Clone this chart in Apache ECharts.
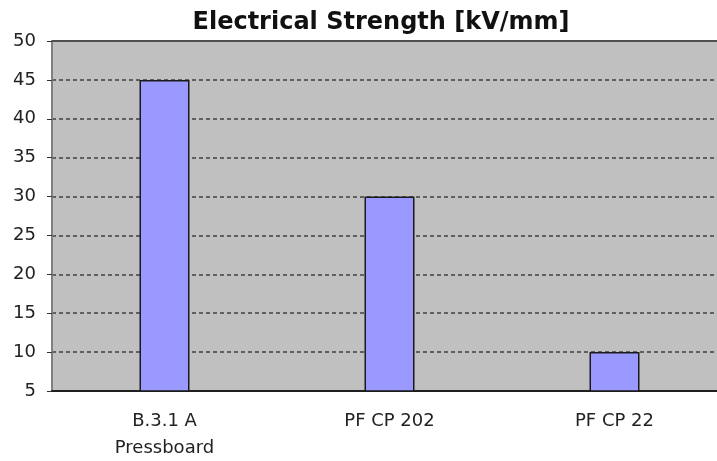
<!DOCTYPE html>
<html>
<head>
<meta charset="utf-8">
<script src="https://cdn.jsdelivr.net/npm/echarts@6/dist/echarts.min.js"></script>
<style>
  html, body { margin: 0; padding: 0; background: #fff; }
  #chart { width: 717px; height: 461px; }
</style>
</head>
<body>
<div id="chart"></div>
<script>
const categories = ['B.3.1 A\nPressboard', 'PF CP 202', 'PF CP 22']
const strength = [45, 30, 10]
const yTicks = [5, 50, 5] // min, max, step

const myChart = echarts.init(document.getElementById('chart'))

const font = '"DejaVu Sans", sans-serif'

const option = {
    animation: false,
    title: {
        text: 'Electrical Strength [kV/mm]',
        left: 376,
        textAlign: 'center',
        top: 6,
        textStyle: {
            fontFamily: font,
            fontSize: 24,
            fontWeight: 'bold',
            color: '#111'
        }
    },
    // plot runs past the right edge of the picture, as in the original
    grid: {
        left: 52,
        width: 675,
        top: 41,
        bottom: 70,
        outerBoundsMode: 'none',
        show: true,
        backgroundColor: '#c0c0c0',
        borderWidth: 0
    },
    xAxis: {
        type: 'category',
        data: categories,
        axisLine: { lineStyle: { color: '#202020', width: 2 } },
        axisTick: { length: 4, lineStyle: { color: '#202020' } },
        axisLabel: {
            fontFamily: font,
            fontSize: 18,
            color: '#222',
            margin: 17,
            lineHeight: 27
        }
    },
    yAxis: {
        type: 'value',
        min: yTicks[0],
        max: yTicks[1],
        interval: yTicks[2],
        axisLine: { show: true, lineStyle: { color: '#808080', width: 2 } },
        axisTick: { show: true, length: 5, lineStyle: { color: '#303030' } },
        axisLabel: {
            fontFamily: font,
            fontSize: 18,
            color: '#222',
            margin: 16
        },
        splitLine: {
            lineStyle: { color: '#404040', type: [4, 3], width: 1.5 }
        }
    },
    series: [{
        type: 'bar',
        data: strength,
        barWidth: 50,
        itemStyle: {
            color: '#9999ff',
            borderColor: '#1a1a1a',
            borderWidth: 1.5
        }
    }, {
        // top border of the plot area
        type: 'line',
        data: [],
        markLine: {
            silent: true,
            symbol: 'none',
            label: { show: false },
            lineStyle: { color: '#505050', type: 'solid', width: 2 },
            data: [{ yAxis: yTicks[1] }]
        }
    }]
}

myChart.setOption(option)
</script>
</body>
</html>
